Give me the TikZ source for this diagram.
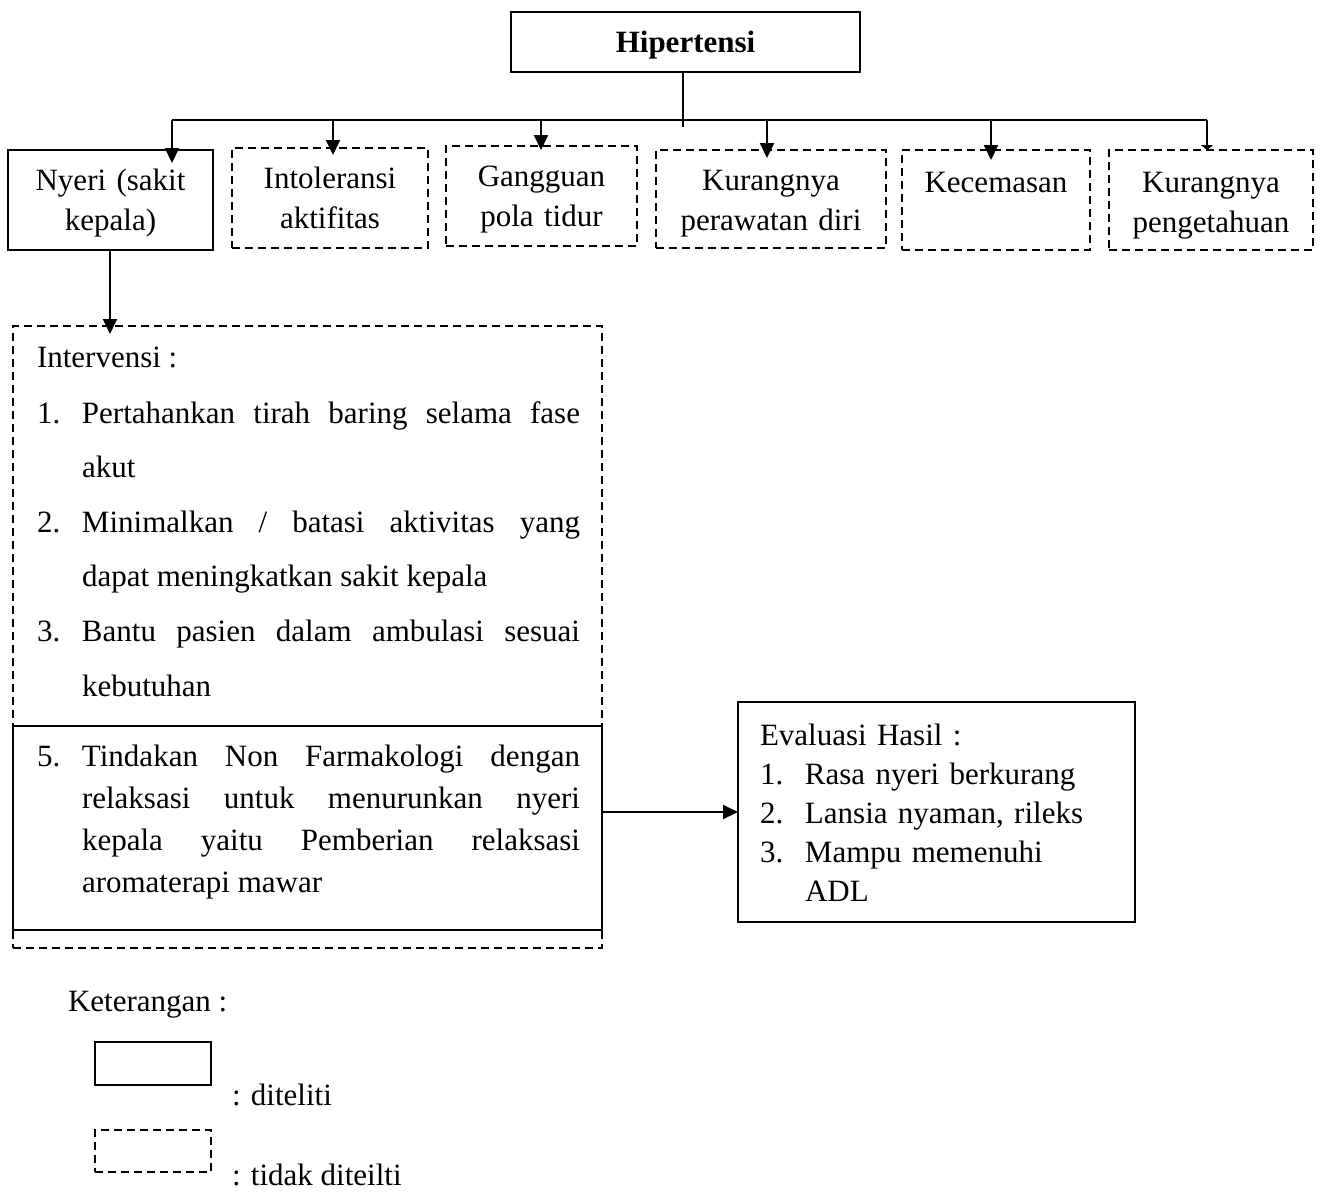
\documentclass[tikz,border=0pt]{standalone}
\usepackage{fontspec}
\setmainfont{Liberation Serif}
\usetikzlibrary{arrows.meta}
\begin{document}
\begin{tikzpicture}[x=1pt,y=-1pt,
  every node/.style={font=\fontsize{31}{40}\selectfont, inner sep=0pt, outer sep=0pt},
  sbox/.style={draw, line width=1.8pt, rectangle, anchor=north west, inner sep=0pt},
  dbox/.style={sbox, dash pattern=on 8pt off 5pt},
  conn/.style={line width=2pt},
  arr/.style={conn, -{Triangle[length=15pt,width=14pt]}},
  ctxt/.style={anchor=base, align=center},
  btxt/.style={anchor=base west, align=justify}
]
\useasboundingbox (0,0) rectangle (1320,1192);

% top
\node[sbox, minimum width=349pt, minimum height=60pt] (hip) at (511,12) {};
\node[font=\fontsize{31}{40}\selectfont\bfseries, anchor=base] (hipt) at (685.5,52) {Hipertensi};

\node[sbox, minimum width=205pt, minimum height=100pt] (nyeri) at (8,150) {};
\node[dbox, minimum width=196pt, minimum height=100pt] (intol) at (232,148) {};
\node[dbox, minimum width=191pt, minimum height=100pt] (gang) at (446,146) {};
\node[dbox, minimum width=230pt, minimum height=98pt] (kur) at (656,150) {};
\node[dbox, minimum width=188pt, minimum height=100pt] (kec) at (902,150) {};
\node[dbox, minimum width=204pt, minimum height=100pt] (peng) at (1109,150) {};

\node[ctxt, text width=205pt] (nyerit) at (nyeri.north |- 0,190) {Nyeri (sakit\\kepala)};
\node[ctxt, text width=196pt] (intolt) at (intol.north |- 0,188) {Intoleransi\\aktifitas};
\node[ctxt, text width=191pt] (gangt) at (gang.north |- 0,186) {Gangguan\\pola tidur};
\node[ctxt, text width=230pt] (kurt) at (kur.north |- 0,190) {Kurangnya\\perawatan diri};
\node[ctxt, text width=188pt] (kect) at (kec.north |- 0,192) {Kecemasan};
\node[ctxt, text width=204pt] (pengt) at (peng.north |- 0,192) {Kurangnya\\pengetahuan};

% connectors top
\coordinate (busL) at (172,120);
\coordinate (busR) at (1207,120);
\draw[conn] (hip.south -| 683,0) -- (683,127);
\draw[conn] (busL) -- (busR);
\draw[arr, shorten >=-13pt] (busL) -- (busL |- nyeri.north);
\draw[arr, shorten >=-7pt] (333,120) -- (333,0 |- intol.north);
\draw[arr, shorten >=-4pt] (541,120) -- (541,0 |- gang.north);
\draw[arr, shorten >=-8pt] (767,120) -- (767,0 |- kur.north);
\draw[arr, shorten >=-10pt] (991,120) -- (991,0 |- kec.north);
\draw[conn, -{Triangle[length=5pt,width=12pt]}] (busR) -- (busR |- peng.north);

% intervention
\node[dbox, minimum width=589pt, minimum height=622pt] (intv) at (13,326) {};
\node[sbox, minimum width=589pt, minimum height=204pt] (tind) at (13,726) {};
\draw[arr, shorten >=-8pt] (nyeri.south -| 110,0) -- (110,0 |- intv.north);

\node[anchor=base west] (intvh) at (37,367) {Intervensi :};
\node[btxt, text width=543pt, font=\fontsize{31}{54.6}\selectfont] (intvt) at (37,423) {%
\hangindent=45pt\hangafter=1\makebox[45pt][l]{1.}Pertahankan tirah baring selama fase\linebreak akut\par
\hangindent=45pt\hangafter=1\makebox[45pt][l]{2.}Minimalkan / batasi aktivitas yang\linebreak dapat meningkatkan sakit kepala\par
\hangindent=45pt\hangafter=1\makebox[45pt][l]{3.}Bantu pasien dalam ambulasi sesuai\linebreak kebutuhan\par};

\node[btxt, text width=543pt, font=\fontsize{31}{42.3}\selectfont] (tindt) at (37,766) {%
\hangindent=45pt\hangafter=1\makebox[45pt][l]{5.}Tindakan Non Farmakologi dengan\linebreak relaksasi untuk menurunkan nyeri\linebreak kepala yaitu Pemberian relaksasi\linebreak aromaterapi mawar\par};

% evaluation
\node[sbox, minimum width=397pt, minimum height=220pt] (eval) at (738,702) {};
\node[anchor=base west, text width=370pt, align=left, font=\fontsize{31}{39}\selectfont] (evalt) at (760,745) {%
Evaluasi Hasil :\par
\hangindent=45pt\hangafter=1\makebox[45pt][l]{1.}Rasa nyeri berkurang\par
\hangindent=45pt\hangafter=1\makebox[45pt][l]{2.}Lansia nyaman, rileks\par
\hangindent=45pt\hangafter=1\makebox[45pt][l]{3.}Mampu memenuhi\newline ADL\par};
\draw[arr] (tind.east |- 0,812) -- (eval.west |- 0,812);

% legend
\node[anchor=base west] (ket) at (68,1011) {Keterangan :};
\node[sbox, minimum width=116pt, minimum height=43pt] (lsolid) at (95,1042) {};
\node[dbox, minimum width=116pt, minimum height=42pt] (ldash) at (95,1130) {};
\node[anchor=base west] (ldit) at (232,1105) {: diteliti};
\node[anchor=base west] (ltdk) at (232,1185) {: tidak diteilti};
\end{tikzpicture}
\end{document}
